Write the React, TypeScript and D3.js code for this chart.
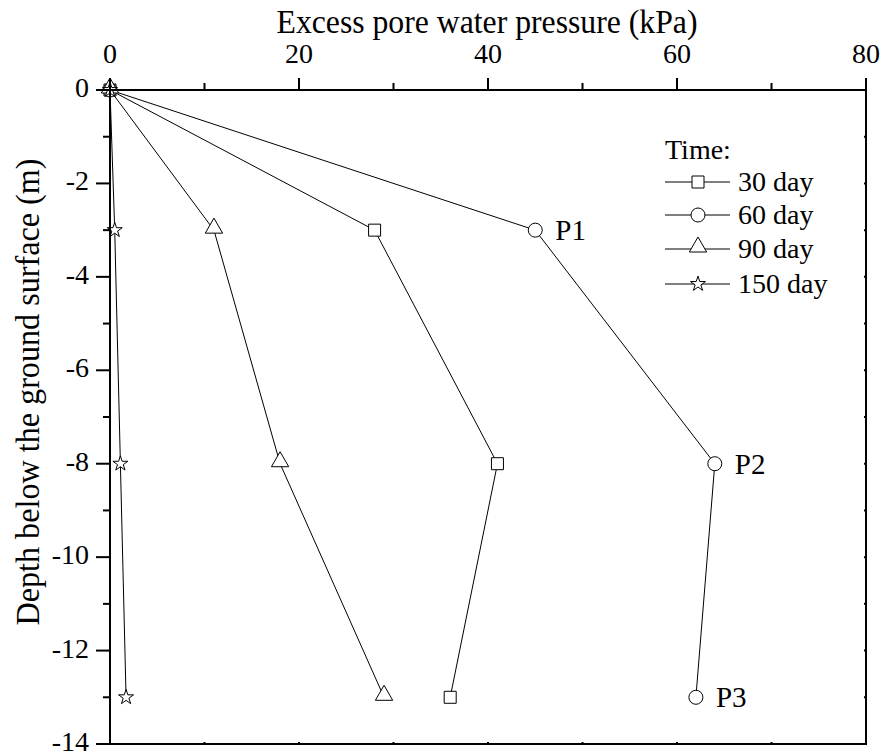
import React from "react";
import * as d3 from "d3";

const depths = [0, -3, -8, -13];
const series30 = [0, 28, 41, 36];
const series60 = [0, 45, 64, 62];
const series90 = [0, 11, 18, 29];
const series150 = [0, 0.5, 1.1, 1.7];
const seriesNames = ["30 day", "60 day", "90 day", "150 day"];
const xTicks = [0, 20, 40, 60, 80];
const yTicks = [0, -2, -4, -6, -8, -10, -12, -14];
const pointLabels = ["P1", "P2", "P3"];

const W = 882;
const H = 754;
const M = { left: 110, right: 866, top: 90, bottom: 744 };
const FF = "Times New Roman";

export default function App() {
  const x = d3.scaleLinear().domain([0, 80]).range([M.left, M.right]);
  const y = d3.scaleLinear().domain([0, -14]).range([M.top, M.bottom]);
  const line = d3
    .line<[number, number]>()
    .x((d) => x(d[0]))
    .y((d) => y(d[1]));

  const allSeries = [series30, series60, series90, series150];
  const symbols = [d3.symbolSquare, d3.symbolCircle, d3.symbolTriangle, d3.symbolStar];
  const sizes = [144, 154, 130, 70];
  const sym = (i: number) => d3.symbol().type(symbols[i]).size(sizes[i])() as string;

  const xMinor = d3.range(0, 81, 10);
  const yMinor = d3.range(0, -15, -1);

  const legendX = 665;
  const legendRows = [182, 215, 249, 284];

  return (
    <svg width={W} height={H} style={{ display: "block", position: "absolute", left: 0, top: 0 }}>
      <rect x={0} y={0} width={W} height={H} fill="#fff" />
      {allSeries.map((s, i) => (
        <g key={i}>
          <path
            d={line(s.map((v, k) => [v, depths[k]] as [number, number])) as string}
            fill="none"
            stroke="#000"
            strokeWidth={1}
          />
          {s.map((v, k) => (
            <path
              key={k}
              d={sym(i)}
              transform={`translate(${x(v)},${y(depths[k]) + (i === 2 ? -2 : 0)})`}
              fill="#fff"
              stroke="#000"
              strokeWidth={1}
            />
          ))}
        </g>
      ))}
      {pointLabels.map((t, k) => (
        <text key={t} x={x(series60[k + 1]) + 20} y={y(depths[k + 1]) + 10} fontSize={29} style={{ fontFamily: FF }}>
          {t}
        </text>
      ))}
      <rect
        x={M.left}
        y={M.top}
        width={M.right - M.left}
        height={M.bottom - M.top}
        fill="none"
        stroke="#000"
        strokeWidth={2}
      />
      {xMinor.map((v) => (
        <line
          key={"tx" + v}
          x1={x(v)}
          x2={x(v)}
          y1={M.top}
          y2={M.top - (v % 20 === 0 ? 12 : 7)}
          stroke="#000"
          strokeWidth={2}
        />
      ))}
      {xMinor.map((v) => (
        <line key={"bx" + v} x1={x(v)} x2={x(v)} y1={M.bottom} y2={M.bottom - 2} stroke="#000" strokeWidth={2} />
      ))}
      {xTicks.map((v) => (
        <text key={"xl" + v} x={x(v)} y={M.top - 27} textAnchor="middle" fontSize={28} style={{ fontFamily: FF }}>
          {v}
        </text>
      ))}
      {yMinor.map((v) => (
        <line
          key={"ly" + v}
          x1={M.left}
          x2={M.left - (v % 2 === 0 ? 14 : 7)}
          y1={y(v)}
          y2={y(v)}
          stroke="#000"
          strokeWidth={2}
        />
      ))}
      {yMinor.map((v) => (
        <line key={"ry" + v} x1={M.right} x2={M.right - 2} y1={y(v)} y2={y(v)} stroke="#000" strokeWidth={2} />
      ))}
      {yTicks.map((v) => (
        <text key={"yl" + v} x={M.left - 21} y={y(v) + 7} textAnchor="end" fontSize={28} style={{ fontFamily: FF }}>
          {v}
        </text>
      ))}
      <text
        x={487}
        y={33}
        textAnchor="middle"
        fontSize={33}
        textLength={421}
        lengthAdjust="spacingAndGlyphs"
        style={{ fontFamily: FF }}
      >
        Excess pore water pressure (kPa)
      </text>
      <text
        transform={`translate(39,392) rotate(-90)`}
        textAnchor="middle"
        fontSize={33}
        textLength={467}
        lengthAdjust="spacingAndGlyphs"
        style={{ fontFamily: FF }}
      >
        Depth below the ground surface (m)
      </text>
      <text x={legendX} y={159} fontSize={28} style={{ fontFamily: FF }}>
        Time:
      </text>
      {seriesNames.map((n, i) => (
        <g key={n}>
          <line x1={legendX} x2={legendX + 65} y1={legendRows[i]} y2={legendRows[i]} stroke="#000" strokeWidth={1} />
          <path
            d={sym(i)}
            transform={`translate(${legendX + 33},${legendRows[i] + (i === 2 ? -2 : 0)})`}
            fill="#fff"
            stroke="#000"
            strokeWidth={1}
          />
          <text x={legendX + 73} y={legendRows[i] + 9} fontSize={28} style={{ fontFamily: FF }}>
            {n}
          </text>
        </g>
      ))}
    </svg>
  );
}
